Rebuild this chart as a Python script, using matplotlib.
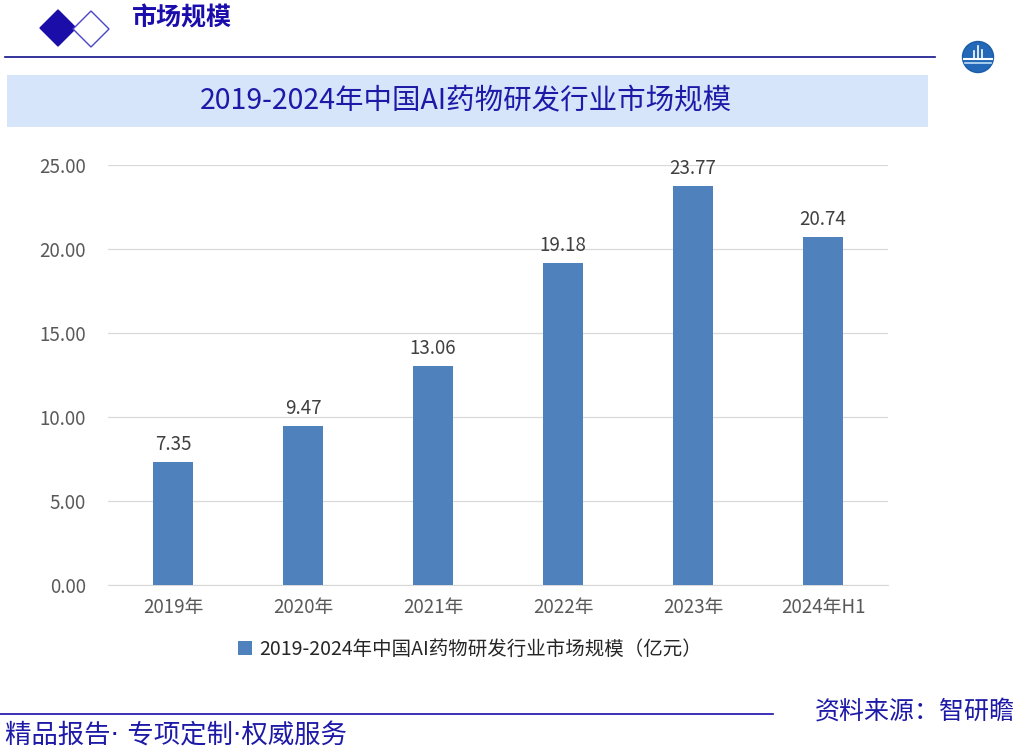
import matplotlib
matplotlib.use("Agg")
import matplotlib.pyplot as plt
from matplotlib.patches import Polygon, Rectangle, Ellipse
from matplotlib.lines import Line2D

plt.rcParams['font.family'] = ['Noto Sans CJK SC', 'DejaVu Sans']

categories = ["2019年", "2020年", "2021年", "2022年", "2023年", "2024年H1"]
values = [7.35, 9.47, 13.06, 19.18, 23.77, 20.74]
yticks = [0, 5, 10, 15, 20, 25]
series_name = "2019-2024年中国AI药物研发行业市场规模（亿元）"
title = "2019-2024年中国AI药物研发行业市场规模"

W, H = 1018, 751
fig = plt.figure(figsize=(W / 100, H / 100), dpi=100)

def fx(px):
    return px / W

def fy(py):
    return 1 - py / H

# Header decorations
fig.patches.append(Polygon([[fx(40), fy(28)], [fx(58), fy(10)], [fx(76), fy(28)], [fx(58), fy(46)]],
                           closed=True, transform=fig.transFigure, facecolor="#1A0DA8", edgecolor="#1A0DA8"))
fig.patches.append(Polygon([[fx(73), fy(29)], [fx(91), fy(11)], [fx(109), fy(29)], [fx(91), fy(47)]],
                           closed=True, transform=fig.transFigure, facecolor="white", edgecolor="#4B45C8", lw=1))
fig.text(fx(132), fy(18), "市场规模", fontsize=18, fontweight="bold", color="#1A0DAB", va="center", ha="left")
fig.add_artist(Line2D([fx(5), fx(935)], [fy(57), fy(57)], color="#10108A", lw=1.2, transform=fig.transFigure))

# Logo
fig.patches.append(Ellipse((fx(978), fy(57)), 31 / W, 31 / H, transform=fig.transFigure,
                           facecolor="#2468B8", edgecolor="#1A5CA8"))
fig.add_artist(Line2D([fx(964), fx(992)], [fy(59), fy(59)], color="white", lw=1.5, transform=fig.transFigure))
fig.add_artist(Line2D([fx(965), fx(991)], [fy(63), fy(63)], color="#BFE0F8", lw=1.2, transform=fig.transFigure))
for xx, hh in [(974, 7), (978, 12), (982, 8)]:
    fig.add_artist(Line2D([fx(xx), fx(xx)], [fy(58), fy(58 - hh)], color="white", lw=1.2, transform=fig.transFigure))

# Title band
fig.patches.append(Rectangle((fx(7), fy(127)), fx(928) - fx(7), fy(75) - fy(127), transform=fig.transFigure,
                             facecolor="#D6E5FA", edgecolor="none"))
fig.text(fx(466), fy(101), title, fontsize=20.5, color="#1E1AA8", ha="center", va="center")

# Axes
ax = fig.add_axes([fx(108), fy(585), fx(888) - fx(108), fy(165) - fy(585)])
x = list(range(len(categories)))
bars = ax.bar(x, values, width=0.31, color="#4F81BD", label=series_name, zorder=3)
ax.set_xlim(-0.5, len(categories) - 0.5)
ax.set_ylim(0, 25)
ax.set_yticks(yticks)
ax.set_yticklabels([f"{v:.2f}" for v in yticks])
ax.set_xticks(x)
ax.set_xticklabels(categories)
ax.grid(axis="y", color="#D9D9D9", lw=0.9, zorder=0)
for s in ["top", "right", "left"]:
    ax.spines[s].set_visible(False)
ax.spines["bottom"].set_color("#D9D9D9")
ax.tick_params(axis="both", length=0, colors="#595959", labelsize=13.5)
ax.tick_params(axis="y", pad=16)
ax.tick_params(axis="x", pad=9)
for b, v in zip(bars, values):
    ax.annotate(f"{v:.2f}", (b.get_x() + b.get_width() / 2, v), xytext=(0, 5), textcoords="offset points",
                ha="center", va="bottom", fontsize=13.5, color="#404040")

leg = fig.legend(handles=[Rectangle((0, 0), 1, 1, facecolor="#4F81BD")], labels=[series_name],
                 loc="center", bbox_to_anchor=(fx(470), fy(649)), frameon=False, fontsize=14,
                 handlelength=0.7, handleheight=0.7, handletextpad=0.4)
for t in leg.get_texts():
    t.set_color("#262626")

# Footer
fig.add_artist(Line2D([fx(0), fx(773)], [fy(714), fy(714)], color="#1A0DAB", lw=1.2, transform=fig.transFigure))
fig.text(fx(5), fy(736), "精品报告· 专项定制·权威服务", fontsize=19, color="#1E1AA8", ha="left", va="center",
         family=['DejaVu Sans', 'Noto Sans CJK SC'])
fig.text(fx(1015), fy(712), "资料来源：智研瞻", fontsize=18, color="#1E1AA8", ha="right", va="center")

fig.savefig("out.png", dpi=100)
